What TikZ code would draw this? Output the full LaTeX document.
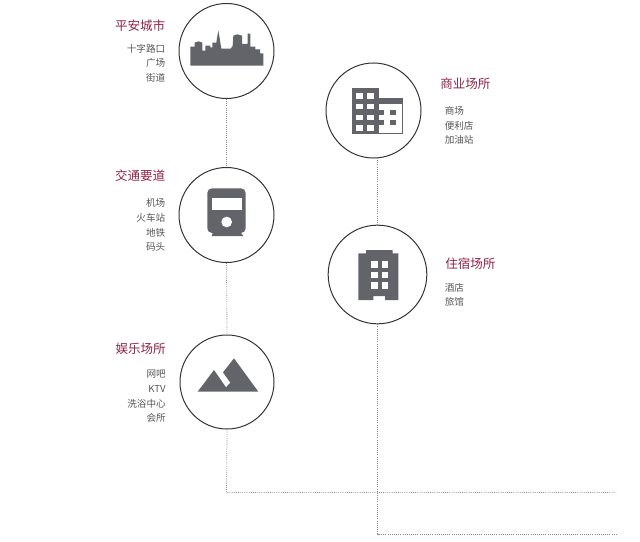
\documentclass[tikz,border=0pt]{standalone}
\usepackage{fontspec}
\setmainfont{Noto Sans CJK SC}
\definecolor{headc}{HTML}{8E2347}
\definecolor{subc}{HTML}{555555}
\definecolor{iconc}{HTML}{63646A}
\definecolor{ringc}{HTML}{333333}
\definecolor{dotc}{HTML}{8A8A8A}
\tikzset{
  ring/.style={circle,draw=ringc,line width=0.75pt,inner sep=0pt,fill=white},
  headl/.style={inner sep=0pt,text=headc,font=\fontsize{9.4pt}{11pt}\selectfont,text height=8pt,text depth=1.6pt},
  subl/.style={inner sep=0pt,text=subc,font=\fontsize{7.2pt}{9pt}\selectfont,text height=6.2pt,text depth=1.2pt},
  link/.style={draw=dotc,line width=0.6pt,densely dotted},
  ico/.style={fill=iconc,draw=none},
  hole/.style={fill=white,draw=none}
}
\begin{document}
\begin{tikzpicture}[x=0.75pt,y=-0.75pt]
\useasboundingbox (0,0) rectangle (640,542);
% connectors' free ends
\coordinate (cornerA) at (226.5,492.5);
\coordinate (endA) at (616,492.5);
\coordinate (cornerB) at (377.5,534);
\coordinate (endB) at (616,534);
% circles
\node[ring,minimum size=71.25pt] (city) at (226.5,51) {};
\node[ring,minimum size=71.25pt] (traffic) at (226.5,215) {};
\node[ring,minimum size=70.5pt] (fun) at (227,382) {};
\node[ring,minimum size=71.25pt] (shop) at (373.5,110.5) {};
\node[ring,minimum size=74pt] (hotel) at (377.5,274.5) {};
% connectors
\draw[link] (city.south) -- (traffic.north);
\draw[link] (traffic.south) -- (fun.north);
\draw[link] (fun.south) -- (cornerA) -- (endA);
\draw[link] (377.5,158) -- (hotel.north);
\draw[link] (hotel.south) -- (cornerB) -- (endB);
% skyline
\begin{scope}[shift={(100,0)},x=0.25pt,y=-0.25pt]
\fill[ico] (271,197) -- (271,140) -- (284,140) -- (284,128) -- (296,124) -- (307,128) -- (307,152) -- (316,152) -- (316,137) -- (331,137) -- (331,142) -- (337,142) -- (337,128) -- (349,128) -- (352,108) -- (355,92) -- (358,108) -- (361,128) -- (364,146) -- (392,146) -- (398,138) -- (400,107) -- (412,103) -- (426,107) -- (426,132) -- (443,132) -- (443,101) -- (451,101) -- (451,140) -- (466,140) -- (466,148) -- (480,148) -- (480,160) -- (490,160) -- (490,197) -- cycle;
\end{scope}
% train
\begin{scope}[shift={(100,160)},x=0.25pt,y=-0.25pt]
\fill[ico,rounded corners=3.5pt] (322,85) rectangle (437,219);
\fill[ico] (340,215) -- (420,215) -- (430,228) -- (335,228) -- cycle;
\fill[hole] (336,113) rectangle (425,150);
\fill[hole] (380,186) circle[radius=4pt];
\end{scope}
% mountains
\begin{scope}[shift={(100,330)},x=0.25pt,y=-0.25pt]
\fill[ico] (293,185) -- (342,120) -- (378,172) -- (391,158) -- (369,127) -- (402,85) -- (475,185) -- cycle;
\end{scope}
% office
\begin{scope}[shift={(320,60)},x=0.25pt,y=-0.25pt]
\fill[ico] (95,85) rectangle (178,223);
\fill[ico] (178,115) rectangle (250,223);
\fill[hole] (178,131) rectangle (245,218);
\foreach \yy in {99,131,164,196}{
  \fill[hole] (109,\yy) rectangle (129,\yy+17);
  \fill[hole] (141,\yy) rectangle (161,\yy+17);
}
\foreach \yy in {149,181}{
  \fill[ico] (178,\yy) rectangle (193,\yy+15);
  \fill[ico] (211,\yy) rectangle (229,\yy+15);
}
\end{scope}
% hotel
\begin{scope}[shift={(320,220)},x=0.25pt,y=-0.25pt]
\fill[ico] (115,100) -- (138,100) -- (138,90) -- (218,90) -- (218,100) -- (235,100) -- (235,240) -- (195,240) -- (195,228) -- (160,228) -- (160,240) -- (115,240) -- cycle;
\foreach \yy in {124,156,187}{
  \fill[hole] (154,\yy) rectangle (173,\yy+19);
  \fill[hole] (185,\yy) rectangle (204,\yy+19);
}
\end{scope}
% labels
\node[headl,anchor=east] (h1) at (165.5,26.5) {平安城市};
\node[subl,anchor=east] (s11) at (165.5,49) {十字路口};
\node[subl,anchor=east] (s12) at (165.5,63.5) {广场};
\node[subl,anchor=east] (s13) at (165.5,78) {街道};
\node[headl,anchor=east] (h2) at (165.5,176.5) {交通要道};
\node[subl,anchor=east] (s21) at (165.5,203.5) {机场};
\node[subl,anchor=east] (s22) at (165.5,218.5) {火车站};
\node[subl,anchor=east] (s23) at (165.5,233) {地铁};
\node[subl,anchor=east] (s24) at (165.5,247.5) {码头};
\node[headl,anchor=east] (h3) at (166,349.5) {娱乐场所};
\node[subl,anchor=east] (s31) at (166,374.5) {网吧};
\node[subl,anchor=east] (s32) at (166,389.5) {KTV};
\node[subl,anchor=east] (s33) at (166,404) {洗浴中心};
\node[subl,anchor=east] (s34) at (166,418.5) {会所};
\node[headl,anchor=west] (h4) at (440,84.5) {商业场所};
\node[subl,anchor=west] (s41) at (444.5,111.5) {商场};
\node[subl,anchor=west] (s42) at (444.5,126) {便利店};
\node[subl,anchor=west] (s43) at (444.5,140.5) {加油站};
\node[headl,anchor=west] (h5) at (445,264.5) {住宿场所};
\node[subl,anchor=west] (s51) at (444.5,288) {酒店};
\node[subl,anchor=west] (s52) at (444.5,302.5) {旅馆};
\end{tikzpicture}
\end{document}
